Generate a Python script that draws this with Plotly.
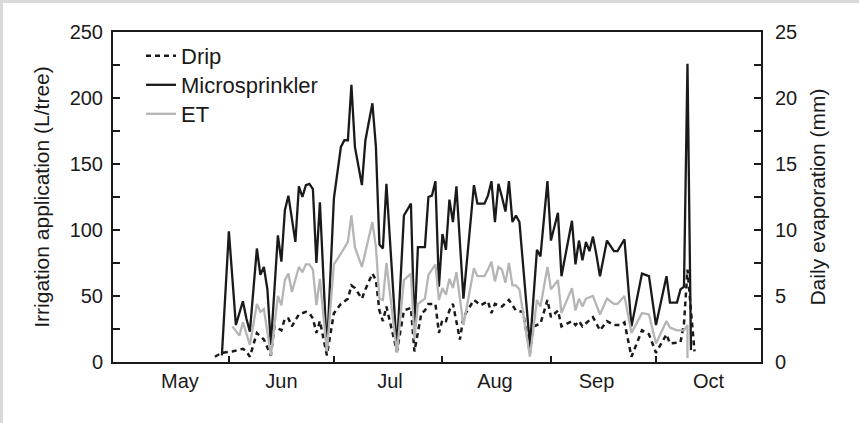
import pandas as pd
import plotly.graph_objects as go

# ---------------- data (days counted from 1 May) ----------------
season_start = "2001-05-01"

micro_day = [29, 31, 33, 35, 36, 37, 39, 40, 41, 42, 43, 45, 46, 47, 48, 50, 51, 52, 53, 54,
             55, 56, 57, 59, 61, 63, 64, 65, 66, 67, 69, 70, 72, 73, 74, 75, 76, 79, 81, 83,
             84, 85, 87, 88, 89, 90, 91, 92, 93, 94, 95, 96, 98, 101, 102, 104, 105, 106, 107, 108,
             109, 110, 111, 112, 113, 114, 117, 119, 120, 122, 123, 125, 126, 129, 130, 131, 132, 133, 134, 135,
             136, 137, 139, 141, 142, 144, 146, 149, 151, 153, 156, 157, 159, 160, 161, 162, 163]
micro_val = [5, 99, 28, 46, 33, 23, 86, 66, 72, 55, 13, 96, 76, 115, 126, 91, 133, 125, 134, 135,
             131, 75, 121, 8, 124, 163, 168, 168, 210, 163, 134, 168, 196, 163, 89, 86, 135, 9, 111, 120,
             25, 87, 87, 125, 126, 137, 57, 97, 85, 123, 106, 133, 48, 134, 120, 120, 126, 137, 106, 135,
             125, 114, 137, 106, 111, 106, 12, 85, 80, 137, 92, 113, 65, 107, 74, 92, 77, 91, 84, 95,
             81, 65, 92, 84, 84, 93, 27, 67, 65, 28, 65, 45, 45, 55, 57, 226, 9]

drip_day = [27, 29, 32, 35, 36, 37, 39, 41, 43, 44, 46, 47, 48, 49, 51, 53, 54, 55, 56, 57,
            59, 61, 63, 65, 66, 67, 69, 70, 72, 73, 74, 75, 76, 79, 81, 83, 84, 86, 87, 88,
            89, 90, 91, 92, 93, 94, 95, 97, 98, 101, 103, 105, 106, 107, 109, 111, 113, 115, 117, 118,
            120, 122, 123, 125, 126, 129, 130, 131, 132, 134, 135, 137, 139, 141, 143, 144, 146, 149, 151, 153,
            156, 157, 160, 161, 162, 164]
drip_val = [4, 7, 8, 10, 8, 4, 22, 17, 5, 27, 24, 33, 33, 27, 36, 38, 37, 33, 22, 31,
            5, 37, 44, 48, 58, 56, 48, 55, 67, 62, 39, 31, 42, 8, 39, 41, 8, 37, 39, 44,
            44, 44, 22, 32, 31, 39, 44, 17, 34, 47, 43, 46, 37, 44, 42, 47, 39, 38, 7, 27,
            29, 47, 34, 39, 27, 31, 28, 31, 27, 32, 34, 24, 31, 28, 28, 30, 4, 24, 21, 7,
            21, 14, 15, 29, 70, 8]

et_day = [32, 34, 35, 37, 39, 40, 41, 43, 45, 46, 47, 48, 49, 51, 52, 53, 54, 55, 56, 57,
          59, 61, 63, 64, 65, 66, 67, 69, 71, 72, 73, 74, 75, 76, 79, 81, 83, 84, 85, 87,
          88, 89, 90, 91, 92, 93, 94, 95, 96, 98, 101, 102, 104, 105, 106, 107, 108, 109, 110, 111,
          112, 113, 114, 117, 119, 120, 122, 123, 125, 126, 129, 130, 131, 132, 133, 135, 137, 139, 141, 142,
          144, 146, 149, 151, 153, 156, 157, 159, 161, 162, 162]
et_val = [2.7, 2.0, 3.0, 1.3, 4.4, 3.8, 4.0, 0.5, 5.0, 4.3, 6.2, 6.7, 5.3, 7.2, 6.8, 7.4, 7.4, 7.0, 4.3, 6.3,
          0.8, 7.4, 8.2, 8.7, 9.1, 11.1, 8.7, 7.2, 9.4, 10.6, 8.7, 4.8, 4.7, 7.5, 0.7, 6.2, 6.7, 1.7, 4.4, 4.8,
          6.6, 7.0, 7.4, 4.7, 5.6, 5.1, 6.3, 5.6, 6.8, 2.8, 7.1, 6.5, 6.5, 7.0, 7.6, 6.1, 7.2, 7.0, 6.0, 7.5,
          5.8, 5.8, 5.5, 0.4, 4.7, 4.2, 7.2, 5.5, 6.2, 3.7, 5.6, 3.9, 4.8, 4.2, 4.8, 5.0, 3.6, 4.8, 4.4, 4.4,
          5.0, 2.2, 3.7, 3.6, 1.4, 3.1, 2.6, 2.4, 2.4, 2.8, 0.3]

month_labels = ["May", "Jun", "Jul", "Aug", "Sep", "Oct"]
month_label_dates = ["2001-05-18", "2001-06-16", "2001-07-17", "2001-08-16", "2001-09-14", "2001-10-16"]
month_tick_dates = ["2001-06-01", "2001-07-01", "2001-08-01", "2001-09-01", "2001-10-01"]

# ---------------- figure ----------------
base = pd.Timestamp(season_start)
def to_dates(days):
    return [base + pd.Timedelta(days=d) for d in days]

W, H = 859, 423
ML, MR, MT, MB = 113, 98, 32, 61
PW, PH = W - ML - MR, H - MT - MB
INK = "#1a1a1a"
FRAME = "#d9d9d9"
FONT = "Liberation Sans, Arial, sans-serif"

def px_x(p):
    return (p - ML) / PW

def px_y(p):
    return 1 - (p - MT) / PH

fig = go.Figure()
fig.add_trace(go.Scatter(x=to_dates(drip_day), y=drip_val, mode="lines", name="Drip",
                         legend="legend", line=dict(color=INK, width=2.5, dash="5px,4px")))
fig.add_trace(go.Scatter(x=to_dates(micro_day), y=micro_val, mode="lines", name="Microsprinkler",
                         legend="legend2", line=dict(color=INK, width=2.3)))
fig.add_trace(go.Scatter(x=to_dates(et_day), y=et_val, mode="lines", name="ET", yaxis="y2",
                         legend="legend3", line=dict(color="#b5b5b5", width=2.3)))

x0 = base + pd.Timedelta(days=-2.1)
x1 = base + pd.Timedelta(days=183.0)

def leg(top_px):
    return dict(x=px_x(141), y=px_y(top_px), xanchor="left", yanchor="top",
                bgcolor="rgba(0,0,0,0)", font=dict(size=22), itemwidth=30)

fig.update_layout(
    width=W, height=H,
    margin=dict(l=ML, r=MR, t=MT, b=MB, autoexpand=False),
    paper_bgcolor="white", plot_bgcolor="white",
    font=dict(family=FONT, size=20, color=INK),
    showlegend=True,
    legend=leg(35), legend2=leg(64), legend3=leg(93),
    xaxis=dict(range=[x0, x1], type="date", tickmode="array",
               tickvals=month_label_dates, ticktext=month_labels, ticks="",
               showgrid=False, zeroline=False, showline=True, linecolor=INK, linewidth=2,
               mirror=True, tickfont=dict(size=20),
               minor=dict(tickmode="array", tickvals=month_tick_dates, ticks="inside",
                          ticklen=6, tickwidth=2, tickcolor=INK, showgrid=False)),
    yaxis=dict(range=[0, 250], dtick=50, ticks="inside", ticklen=7, tickwidth=2, tickcolor=INK,
               showgrid=False, zeroline=False, showline=True, linecolor=INK, linewidth=2,
               tickfont=dict(size=20), ticklabelstandoff=4,
               title=dict(text="Irrigation application (L/tree)", font=dict(size=21), standoff=14),
               minor=dict(dtick=25, ticks="inside", ticklen=7, tickwidth=2, tickcolor=INK, showgrid=False)),
    yaxis2=dict(range=[0, 25], dtick=5, overlaying="y", side="right", ticks="inside", ticklen=7,
                tickwidth=2, tickcolor=INK, showgrid=False, zeroline=False, showline=True,
                linecolor=INK, linewidth=2, tickfont=dict(size=20), ticklabelstandoff=8,
                title=dict(text="Daily evaporation (mm)", font=dict(size=21), standoff=14),
                minor=dict(dtick=2.5, ticks="inside", ticklen=7, tickwidth=2, tickcolor=INK, showgrid=False)),
    shapes=[
        dict(type="rect", xref="paper", yref="paper", layer="below",
             x0=px_x(0), x1=px_x(W), y0=px_y(3), y1=px_y(0),
             fillcolor=FRAME, line=dict(width=0)),
        dict(type="rect", xref="paper", yref="paper", layer="below",
             x0=px_x(0), x1=px_x(3), y0=px_y(H), y1=px_y(0),
             fillcolor=FRAME, line=dict(width=0)),
    ],
)

fig.write_html("out.html")
